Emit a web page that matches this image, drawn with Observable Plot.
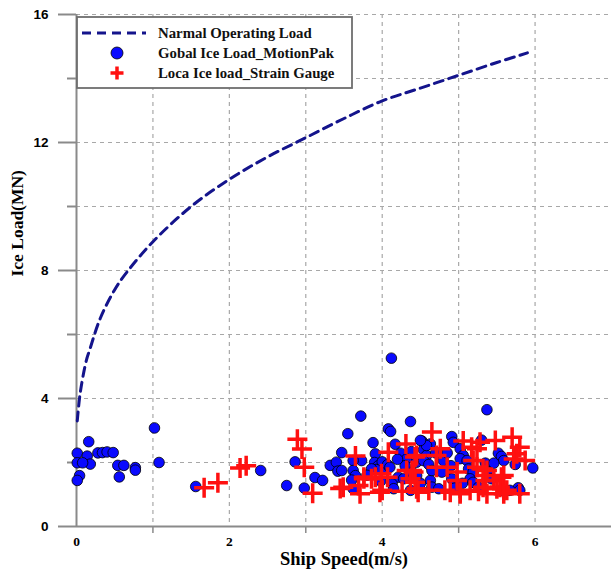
<!DOCTYPE html>
<html>
<head>
<meta charset="utf-8">
<script src="https://cdn.jsdelivr.net/npm/d3@7"></script>
<script src="https://cdn.jsdelivr.net/npm/@observablehq/plot@0.6"></script>
<style>
  html, body { margin: 0; padding: 0; background: white; }
  #chart { width: 611px; height: 576px; }
</style>
</head>
<body>
<div id="chart"></div>
<script>
// ---- Data ----
const xMajorTicks = [0, 2, 4, 6];
const xMinorTicks = [1, 3, 5];
const yMajorTicks = [0, 4, 8, 12, 16];
const yMinorTicks = [2, 6, 10, 14];
const xGridValues = [1, 2, 3, 4, 5, 6];
const yGridValues = [2, 4, 6, 8, 10, 12, 14, 16];

const xLabel = "Ship Speed(m/s)";
const yLabel = "Ice Load(MN)";
const seriesNames = ["Narmal Operating Load", "Gobal Ice Load_MotionPak", "Loca Ice load_Strain Gauge"];

// Normal operating load curve
const normalSpeed = [0.01, 0.05, 0.13, 0.17, 0.31, 0.5, 0.66, 1.0, 1.5, 2.0, 2.5, 3.0, 3.5, 4.0, 4.5, 5.0, 5.5, 5.9];
const normalLoad  = [3.3, 4.2, 5.2, 5.5, 6.5, 7.4, 7.95, 8.9, 10.0, 10.85, 11.55, 12.15, 12.75, 13.3, 13.7, 14.1, 14.5, 14.8];

// Global ice load (MotionPak)
const globalSpeed = [
  0.01, 0.01, 0.16, 0.14, 0.18, 0.08, 0.04, 0.01, 0.28, 0.34, 0.40, 0.48, 0.54, 0.62, 0.56, 0.77, 0.77, 1.02, 1.08,
  1.56, 2.41, 2.75, 2.86, 2.98, 3.12, 3.22, 3.32, 3.40, 3.42, 3.47, 3.55,
  3.72, 4.12, 4.08, 4.11, 4.37, 3.88, 4.17, 4.24, 4.38, 3.91, 3.73, 3.62, 3.90, 3.95, 4.00, 4.03, 3.92, 3.86, 4.07, 4.10,
  4.32, 4.45, 3.62, 3.65, 4.21, 4.28, 4.13, 4.15, 3.62, 3.47, 3.60, 3.80, 3.98,
  4.91, 4.93, 4.52, 4.63, 5.30, 4.54, 4.58, 4.54, 4.61, 5.02, 5.06, 5.02, 5.11, 4.80, 4.85, 4.78, 5.13, 5.19, 4.39, 4.45,
  4.91, 4.63, 4.65, 5.15, 5.19, 4.74, 5.26, 4.37, 5.37, 5.52, 5.56, 5.59, 5.74, 5.97, 5.35, 5.46, 5.39, 5.43, 5.78, 5.80,
  5.67, 5.56, 4.58, 4.50, 4.70, 4.90, 4.30, 4.20, 4.65, 5.05, 4.95, 4.50, 4.85
];
const globalLoad = [
  2.29, 1.99, 2.65, 2.20, 1.95, 1.99, 1.59, 1.44, 2.30, 2.31, 2.33, 2.31, 1.91, 1.91, 1.55, 1.84, 1.76, 3.08, 2.00,
  1.25, 1.75, 1.28, 2.02, 1.20, 1.53, 1.44, 1.91, 2.01, 1.73, 2.31, 2.90,
  3.45, 5.26, 3.05, 2.97, 3.28, 2.62, 2.57, 2.29, 2.34, 2.27, 2.06, 2.06, 2.00, 1.90, 2.02, 1.80, 1.78, 1.80, 1.93, 1.85,
  2.11, 2.01, 1.75, 1.59, 1.54, 1.49, 1.33, 1.18, 1.18, 1.75, 1.45, 1.60, 1.42,
  2.81, 2.63, 2.67, 2.58, 2.70, 2.40, 2.22, 2.06, 1.94, 2.43, 2.22, 2.12, 2.06, 2.06, 1.75, 1.70, 1.80, 1.70, 1.70, 1.59,
  1.49, 1.44, 1.23, 1.49, 1.38, 1.18, 1.23, 1.13, 3.65, 2.29, 2.19, 2.06, 1.94, 1.83, 1.98, 1.98, 1.70, 1.49, 1.21, 1.13,
  1.13, 1.13, 2.53, 2.69, 2.30, 1.90, 1.90, 2.10, 1.75, 1.35, 1.20, 1.35, 2.30
];

// Local ice load (strain gauge)
const localSpeed = [
  1.67, 1.85, 2.14, 2.22, 2.89, 2.95, 2.98, 3.09, 3.45, 3.71, 3.97, 3.65, 4.31, 4.08, 4.43, 3.76, 3.86, 3.99, 3.69, 3.49,
  4.00, 4.26, 4.39, 4.37, 4.45, 4.65, 5.06, 5.28, 5.24, 4.76, 4.71, 4.45, 5.19, 4.71, 4.85, 4.98, 4.41, 4.43, 5.37, 5.35,
  4.61, 4.47, 4.82, 4.89, 5.15, 5.26, 4.98, 5.48, 5.70, 5.80, 5.76, 5.87, 5.72, 5.35, 5.46, 5.59, 5.32, 5.50, 5.63, 5.80,
  3.76, 3.91, 4.07, 4.32, 5.02, 5.24, 5.32, 5.17, 5.56, 5.54, 5.02, 5.37, 5.59
];
const localLoad = [
  1.21, 1.37, 1.83, 1.90, 2.73, 2.42, 1.85, 1.04, 1.19, 1.02, 1.07, 2.20, 2.58, 2.32, 2.17, 1.49, 1.49, 1.65, 1.28, 1.23,
  1.13, 1.10, 1.75, 1.49, 1.18, 2.95, 2.67, 2.63, 2.43, 2.43, 2.22, 2.22, 2.06, 1.85, 1.85, 1.70, 1.70, 1.38, 1.75, 1.44,
  1.13, 1.07, 1.13, 1.07, 1.13, 1.10, 1.44, 2.69, 2.79, 2.48, 2.27, 2.06, 2.11, 1.59, 1.44, 1.59, 1.23, 1.18, 1.13, 1.02,
  1.54, 1.54, 1.54, 1.75, 1.07, 1.85, 1.80, 2.48, 1.54, 1.23, 1.02, 1.02, 1.02
];

// ---- Build tables ----
const normal = normalSpeed.map((x, i) => ({x, y: normalLoad[i]}));
const globalPts = globalSpeed.map((x, i) => ({x, y: globalLoad[i]}));
const localPts = localSpeed.map((x, i) => ({x, y: localLoad[i]}));

const serif = "'Liberation Serif', 'Times New Roman', serif";
const sans = "'Liberation Sans', Arial, sans-serif";
const lineColor = "#14148c";
const dotColor = "#0a0aff";
const crossColor = "#ff1010";
const axisGray = "#8a8a8a";

const chart = Plot.plot({
  width: 611,
  height: 576,
  marginLeft: 76,
  marginRight: 0,
  marginTop: 14,
  marginBottom: 50,
  style: {background: "white", color: "black"},
  x: {domain: [0, 7]},
  y: {domain: [0, 16]},
  marks: [
    Plot.gridX(xGridValues, {stroke: "#a8a8a8", strokeOpacity: 1, strokeWidth: 1.2, strokeDasharray: "4,4"}),
    Plot.gridY(yGridValues, {stroke: "#a8a8a8", strokeOpacity: 1, strokeWidth: 1.2, strokeDasharray: "4,4"}),
    Plot.axisY(yMajorTicks, {tickSize: 18, tickPadding: 10, stroke: axisGray, strokeWidth: 2, fill: "black",
      fontSize: 13.5, fontWeight: "bold", fontFamily: sans, label: null}),
    Plot.axisY(yMinorTicks, {tickSize: 9, stroke: axisGray, strokeWidth: 2, tickFormat: () => "", label: null}),
    Plot.axisX(xMajorTicks, {tickSize: 0, tickPadding: 10, fill: "black",
      fontSize: 13.5, fontWeight: "bold", fontFamily: serif, label: null}),
    Plot.axisX(xMinorTicks, {tickSize: 7, stroke: axisGray, strokeWidth: 1.5, tickFormat: () => "", label: null}),
    Plot.ruleX([0], {stroke: axisGray, strokeWidth: 2}),
    Plot.ruleY([0], {stroke: axisGray, strokeWidth: 2}),
    Plot.line(normal, {x: "x", y: "y", stroke: lineColor, strokeWidth: 3, strokeDasharray: "9,6", curve: "catmull-rom"}),
    Plot.dot(globalPts, {x: "x", y: "y", r: 5.3, fill: dotColor, stroke: "black", strokeWidth: 0.8}),
    Plot.dot(localPts, {x: "x", y: "y", symbol: "plus", r: 6.5, fill: "none", stroke: crossColor, strokeWidth: 3.5}),
    Plot.text([xLabel], {frameAnchor: "bottom", dy: 38, text: d => d, fontSize: 18.5, fontWeight: "bold", fontFamily: serif, fill: "black"}),
    Plot.text([yLabel], {frameAnchor: "left", dx: -59, dy: 6, rotate: -90, text: d => d, fontSize: 17.5, fontWeight: "bold", fontFamily: serif, fill: "black"})
  ]
});

document.getElementById("chart").appendChild(chart);

// ---- Inset legend ----
const svg = d3.select(chart);
const lg = svg.append("g").attr("text-anchor", "start");
lg.append("rect").attr("x", 77).attr("y", 17).attr("width", 275).attr("height", 71)
  .attr("fill", "white").attr("stroke", "#6e6e6e").attr("stroke-width", 1.8);
lg.append("line").attr("x1", 82).attr("x2", 146).attr("y1", 33).attr("y2", 33)
  .attr("stroke", lineColor).attr("stroke-width", 3).attr("stroke-dasharray", "9,6");
lg.append("circle").attr("cx", 117).attr("cy", 53).attr("r", 6)
  .attr("fill", dotColor).attr("stroke", "black").attr("stroke-width", 0.8);
lg.append("path").attr("d", "M110.5,73H123.5M117,66.5V79.5")
  .attr("stroke", crossColor).attr("stroke-width", 3.5).attr("fill", "none");
seriesNames.forEach((name, i) => {
  lg.append("text").attr("x", 158).attr("y", 33 + i * 20).attr("dy", "0.35em")
    .attr("text-anchor", "start")
    .attr("font-family", serif).attr("font-weight", "bold").attr("font-size", 14.8)
    .attr("fill", "#111").text(name);
});
</script>
</body>
</html>
